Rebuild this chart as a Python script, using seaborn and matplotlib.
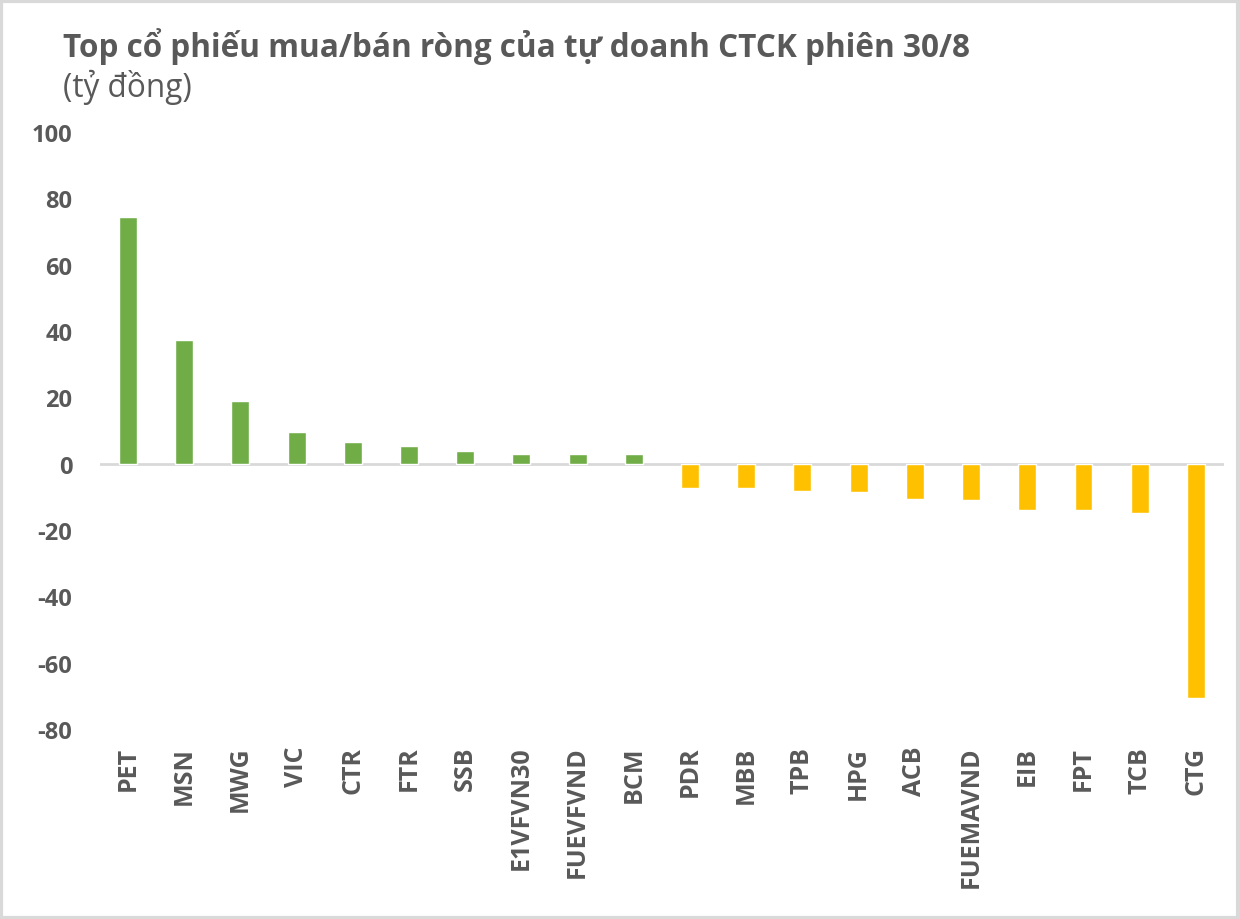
import pandas as pd
import matplotlib.pyplot as plt
import seaborn as sns

# Dữ liệu (tỷ đồng)
ma_cp = ['PET', 'MSN', 'MWG', 'VIC', 'CTR', 'FTR', 'SSB', 'E1VFVN30', 'FUEVFVND', 'BCM',
         'PDR', 'MBB', 'TPB', 'HPG', 'ACB', 'FUEMAVND', 'EIB', 'FPT', 'TCB', 'CTG']
gia_tri = [74.3, 37.2, 18.8, 9.5, 6.5, 5.3, 3.8, 2.9, 2.9, 2.9,
           -7.4, -7.4, -8.1, -8.6, -10.6, -10.9, -13.9, -13.9, -14.8, -70.5]
y_ticks = [100, 80, 60, 40, 20, 0, -20, -40, -60, -80]

df = pd.DataFrame({'ma': ma_cp, 'gt': gia_tri})
mau = ['#70AD47' if v > 0 else '#FFC000' for v in gia_tri]

sns.set_style('white')
plt.rcParams['font.family'] = ['Open Sans', 'DejaVu Sans']

fig = plt.figure(figsize=(12.4, 9.2), dpi=100)
ax = fig.add_axes([0.0806, 0.2065, 0.9065, 0.6489])

sns.barplot(data=df, x='ma', y='gt', hue='ma', palette=mau, legend=False,
            width=0.32, saturation=1, ax=ax)

ax.axhline(0, color='#D9D9D9', lw=2, zorder=0)
ax.set_ylim(-80, 100)
ax.set_xlim(-0.5, len(ma_cp) - 0.5)
ax.set_yticks(y_ticks)
ax.set_yticklabels([str(t) for t in y_ticks], fontsize=17, fontweight='bold', color='#595959')
ax.set_xticks(range(len(ma_cp)))
ax.set_xticklabels(ma_cp, rotation=90, fontsize=18, fontweight='bold', color='#595959')
ax.tick_params(axis='both', length=0)
ax.tick_params(axis='x', pad=12)
ax.tick_params(axis='y', pad=20)
ax.set_xlabel('')
ax.set_ylabel('')
sns.despine(ax=ax, left=True, bottom=True)

fig.text(0.051, 0.938, 'Top cổ phiếu mua/bán ròng của tự doanh CTCK phiên 30/8',
         fontsize=22.7, fontweight='bold', color='#595959', va='baseline')
fig.text(0.051, 0.895, '(tỷ đồng)', fontsize=22.7, color='#595959', va='baseline')

# khung viền nhạt
fig.patches.append(plt.Rectangle((0.001, 0.001), 0.997, 0.997, transform=fig.transFigure,
                                 fill=False, edgecolor='#D9D9D9', lw=3))

fig.savefig('out.png', dpi=100)
